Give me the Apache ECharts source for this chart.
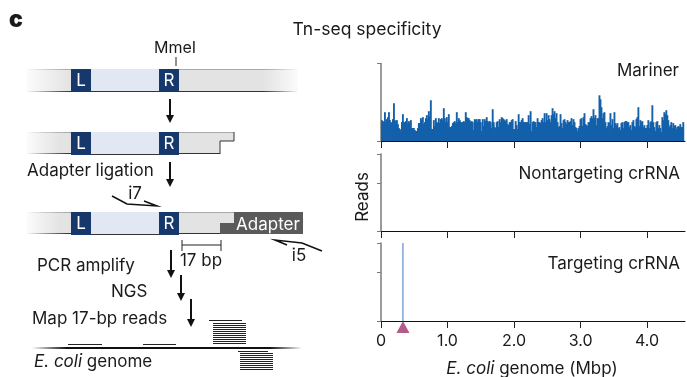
<!DOCTYPE html>
<html>
<head>
<meta charset="utf-8">
<script src="https://cdn.jsdelivr.net/npm/echarts@6/dist/echarts.min.js"></script>
<style>
html, body { margin: 0; padding: 0; background: #fff; }
#chart { width: 687px; height: 377px; }
</style>
</head>
<body>
<div id="chart"></div>
<script>
// genome axis (Mbp)
const genomeMaxMb = 4.57;
const binMb = 0.015;
const xTickValues = [0, 1, 2, 3, 4];
const xTickLabels = ['0', '1.0', '2.0', '3.0', '4.0'];
const panelNames = ['Mariner', 'Nontargeting crRNA', 'Targeting crRNA'];

// Mariner insertions, reads per bin (relative)
const marinerReads = [
  21, 20, 19, 29, 19, 22, 24, 29, 21, 18, 19, 22, 38, 21, 20, 21, 17, 13, 12, 10,
  19, 27, 19, 19, 20, 23, 18, 20, 18, 21, 13, 13, 13, 11, 10, 10, 13, 18, 18, 23,
  21, 24, 17, 19, 23, 26, 22, 30, 25, 41, 12, 12, 21, 15, 23, 19, 18, 23, 18, 22,
  23,
  21, 33, 23, 19, 24, 19, 27, 14, 14, 15, 18, 19, 20, 18, 29, 19, 23, 21, 19, 19,
  19, 20, 19, 29, 24, 23, 23, 21, 19, 20, 19, 11, 22, 21, 22, 19, 22, 22, 19, 10,
  22, 15, 22, 20, 24, 20, 19, 20, 19, 13, 32, 19, 14, 13, 19, 20, 14, 22, 19, 24,
  23,
  22, 21, 20, 22, 17, 16, 19, 19, 21, 22, 12, 12, 20, 16, 12, 27, 19, 19, 21, 23,
  19, 19, 19, 19, 19, 26, 17, 30, 10, 19, 20, 19, 19, 14, 23, 19, 19, 18, 21, 23,
  19, 28, 19, 28, 21, 26, 22, 19, 26, 33, 27, 30, 23, 28, 19, 14, 15, 27, 18, 13,
  21, 22,
  19, 17, 21, 19, 19, 20, 23, 16, 22, 19, 14, 13, 10, 13, 15, 22, 23, 15, 24, 28,
  17, 16, 15, 19, 19, 23, 25, 23, 32, 23, 26, 16, 23, 23, 46, 42, 34, 23, 28, 29,
  19, 13, 15, 19, 18, 28, 16, 22, 13, 29, 18, 16, 18, 13, 14, 11, 18, 19, 13, 19,
  20, 20,
  19, 19, 14, 16, 11, 19, 21, 15, 14, 22, 24, 34, 15, 21, 19, 20, 14, 16, 13, 13,
  16, 21, 13, 19, 20, 36, 19, 14, 10, 19, 20, 13, 16, 13, 9, 24, 21, 29, 27, 31,
  26, 21, 14, 16, 19, 13, 18, 15, 16, 12, 14, 15, 14, 17, 14, 14, 19
];
const marinerMax = 78;

// nontargeting crRNA: no insertions above background
const nontargetingReads = [];

// targeting crRNA: single insertion site
const targetSiteMb = 0.33;
const targetingReads = [[targetSiteMb, 0], [targetSiteMb, 1]];
const pairedMax = 1;
const pairedTicks = [0, 0.62, 1];

const FONT = 'Inter, "Noto Sans", sans-serif';
const INK = '#1a1a1a';
const NAVY = '#17386b';
const LIGHT_BLUE = '#e2e7f4';
const BAR_GRAY = '#e3e3e3';
const ADAPTER_GRAY = '#5a5a5a';

const chart = echarts.init(document.getElementById('chart'));

function hgrad(stops) {
  return new echarts.graphic.LinearGradient(0, 0, 1, 0,
    stops.map(s => ({ offset: s[0], color: s[1] })));
}

function txt(text, x, y, extra) {
  return {
    type: 'text', z: 10,
    style: Object.assign({
      text: text, x: x, y: y, fill: INK,
      fontSize: 17, fontFamily: FONT,
      textAlign: 'left', textVerticalAlign: 'middle',
      align: 'left', verticalAlign: 'middle'
    }, extra || {})
  };
}

function rect(x, y, w, h, fill) {
  return { type: 'rect', shape: { x: x, y: y, width: w, height: h }, style: { fill: fill } };
}

function seg(x1, y1, x2, y2, w, color) {
  return { type: 'line', shape: { x1: x1, y1: y1, x2: x2, y2: y2 },
    style: { stroke: color || '#111', lineWidth: w || 1 } };
}

function arrowDown(x, y1, y2) {
  return [
    seg(x, y1, x, y2 - 6, 2, '#111'),
    { type: 'polygon', shape: { points: [[x - 4, y2 - 8], [x + 4, y2 - 8], [x, y2]] }, style: { fill: '#111' } }
  ];
}

// L / R transposon ends with cargo between them
function transposon(y) {
  return [
    rect(71, y, 20, 23, NAVY),
    rect(91, y, 68, 23, LIGHT_BLUE),
    seg(91, y + 22.5, 159, y + 22.5, 1, '#333'),
    rect(159, y, 20, 23, NAVY),
    txt('L', 81, y + 12, { fill: '#fff', textAlign: 'center', align: 'center' }),
    txt('R', 169, y + 12, { fill: '#fff', textAlign: 'center', align: 'center' })
  ];
}

const fadeGray = [[0, '#fbfbfb'], [0.16, BAR_GRAY], [1, BAR_GRAY]];

let g = [];
g.push(txt('c', 9, 20, { fontSize: 23, fontWeight: 900 }));
g.push(txt('Tn-seq specificity', 367, 30, { textAlign: 'center', align: 'center', fontSize: 17.5 }));

// step 1: genomic insertion
g.push(txt('MmeI', 175, 48, { textAlign: 'center', align: 'center', fontSize: 16 }));
g.push(seg(176, 57, 176, 66, 1, '#222'));
g.push(rect(27, 69, 271, 23, hgrad([[0, '#fbfbfb'], [0.16, BAR_GRAY], [0.87, BAR_GRAY], [1, '#fbfbfb']])));
g.push(rect(27, 69, 271, 1, hgrad([[0, 'rgba(160,160,160,0)'], [0.16, '#a8a8a8'], [0.87, '#a8a8a8'], [1, 'rgba(160,160,160,0)']])));
g.push(rect(27, 91, 271, 1, hgrad([[0, 'rgba(40,40,40,0)'], [0.16, '#333'], [0.87, '#333'], [1, 'rgba(40,40,40,0)']])));
g = g.concat(transposon(69));
g = g.concat(arrowDown(170, 99, 123));

// step 2: MmeI cut
g.push({ type: 'polygon', shape: { points: [[27, 132], [234, 132], [234, 141], [220, 141], [220, 154], [27, 154]] },
  style: { fill: hgrad(fadeGray) } });
g.push(rect(27, 132, 207, 1, hgrad([[0, 'rgba(160,160,160,0)'], [0.2, '#a8a8a8'], [1, '#a8a8a8']])));
g.push(rect(27, 153, 193, 1, hgrad([[0, 'rgba(40,40,40,0)'], [0.22, '#333'], [1, '#333']])));
g.push({ type: 'polyline', shape: { points: [[234, 132], [234, 141], [220, 141], [220, 154]] },
  style: { stroke: '#333', lineWidth: 1, fill: null } });
g = g.concat(transposon(132));
g.push(txt('Adapter ligation', 27, 171));
g = g.concat(arrowDown(170, 162, 187));

// step 3: adapter ligated, primers
g.push({ type: 'polygon', shape: { points: [[27, 212], [234, 212], [234, 223], [220, 223], [220, 234], [27, 234]] },
  style: { fill: hgrad(fadeGray) } });
g.push(rect(27, 212, 207, 1, hgrad([[0, 'rgba(160,160,160,0)'], [0.2, '#a8a8a8'], [1, '#a8a8a8']])));
g.push(rect(27, 233, 193, 1, hgrad([[0, 'rgba(40,40,40,0)'], [0.22, '#333'], [1, '#333']])));
g.push({ type: 'polygon', shape: { points: [[234, 212], [303, 212], [303, 234], [220, 234], [220, 223], [234, 223]] },
  style: { fill: ADAPTER_GRAY } });
g = g.concat(transposon(212));
g.push(txt('Adapter', 268, 225, { fill: '#fff', textAlign: 'center', align: 'center' }));
g.push(txt('i7', 135, 194, { textAlign: 'center', align: 'center' }));
g.push({ type: 'polyline', shape: { points: [[112, 196], [127, 204], [157, 206], [144, 201]] },
  style: { stroke: '#111', lineWidth: 1.5, fill: null } });
g.push(txt('i5', 299, 256, { textAlign: 'center', align: 'center' }));
g.push({ type: 'polyline', shape: { points: [[322, 251], [302, 243], [275, 240], [287, 245]] },
  style: { stroke: '#111', lineWidth: 1.5, fill: null } });
g.push(seg(182, 245, 221, 245, 1, '#222'));
g.push(seg(182, 240, 182, 251, 1, '#222'));
g.push(seg(221, 240, 221, 251, 1, '#222'));
g.push(txt('17 bp', 201, 261, { textAlign: 'center', align: 'center' }));

// steps 4-6
g = g.concat(arrowDown(171, 250, 278));
g = g.concat(arrowDown(181, 275, 301));
g = g.concat(arrowDown(191, 299, 327));
g.push(txt('PCR amplify', 37, 266));
g.push(txt('NGS', 111, 292));
g.push(txt('Map 17-bp reads', 32, 319));

// reads mapped on genome
g.push(rect(32, 347, 270, 2, hgrad([[0, 'rgba(0,0,0,0)'], [0.13, '#111'], [0.88, '#111'], [1, 'rgba(0,0,0,0)']])));
g.push(seg(68, 344.5, 102, 344.5, 1, '#222'));
g.push(seg(143, 344.5, 176, 344.5, 1, '#222'));
g.push(seg(209, 320.5, 242, 320.5, 1, '#222'));
for (let k = 0; k < 11; k++) {
  g.push(seg(213, 323.5 + 2 * k, 246, 323.5 + 2 * k, 1, '#222'));
}
g.push(seg(238, 351.5, 268, 351.5, 1, '#222'));
for (let k = 0; k < 9; k++) {
  g.push(seg(240, 353.5 + 2 * k, 273, 353.5 + 2 * k, 1, '#222'));
}
g.push({
  type: 'text', z: 10,
  style: {
    text: '{i|E. coli} genome', x: 34, y: 362, fill: INK, fontSize: 17, fontFamily: FONT,
    textVerticalAlign: 'middle', verticalAlign: 'middle',
    rich: { i: { fontStyle: 'italic', fontSize: 17, fontFamily: FONT, fill: INK } }
  }
});

// right panel labels
g.push(txt(panelNames[0], 679, 71, { textAlign: 'right', align: 'right' }));
g.push(txt(panelNames[1], 680, 174, { textAlign: 'right', align: 'right' }));
g.push(txt(panelNames[2], 680, 264, { textAlign: 'right', align: 'right' }));
const readsLabel = txt('Reads', 0, 0, { textAlign: 'center', align: 'center' });
readsLabel.rotation = Math.PI / 2;
readsLabel.x = 363;
readsLabel.y = 197;
g.push(readsLabel);
g.push({
  type: 'text', z: 10,
  style: {
    text: '{i|E. coli} genome (Mbp)', x: 532, y: 369, fill: INK, fontSize: 17, fontFamily: FONT,
    textAlign: 'center', align: 'center', textVerticalAlign: 'middle', verticalAlign: 'middle',
    rich: { i: { fontStyle: 'italic', fontSize: 17, fontFamily: FONT, fill: INK } }
  }
});

const grids = [
  { left: 381, right: 2, top: 63.5, height: 77.5 },
  { left: 381, right: 2, top: 154, height: 77 },
  { left: 381, right: 2, top: 243, height: 78 }
];

const xAxes = grids.map((_, i) => ({
  type: 'value', gridIndex: i, min: 0, max: genomeMaxMb,
  axisLine: { lineStyle: { color: '#111', width: 1 } },
  axisTick: { show: true, length: 7, customValues: xTickValues, lineStyle: { color: '#222' } },
  splitLine: { show: false },
  axisLabel: {
    show: i === 2, customValues: xTickValues, margin: 12,
    formatter: v => xTickLabels[xTickValues.indexOf(v)],
    fontSize: 16, fontFamily: FONT, color: INK
  }
}));

const yAxes = grids.map((_, i) => ({
  type: 'value', gridIndex: i, min: 0, max: i === 0 ? marinerMax : pairedMax,
  axisLine: { show: true, lineStyle: { color: '#7a7a7a', width: 1.5 } },
  axisTick: { show: true, length: 4, customValues: i === 0 ? [0, marinerMax] : pairedTicks,
    lineStyle: { color: '#7a7a7a' } },
  axisLabel: { show: false },
  splitLine: { show: false }
}));

chart.setOption({
  animation: false,
  grid: grids,
  xAxis: xAxes,
  yAxis: yAxes,
  graphic: { elements: g },
  series: [
    {
      type: 'custom', xAxisIndex: 0, yAxisIndex: 0,
      data: marinerReads.map((v, i) => [i * binMb, v]),
      renderItem: function (params, api) {
        const top = api.coord([api.value(0), api.value(1)]);
        const bottom = api.coord([api.value(0) + binMb, 0]);
        return {
          type: 'rect',
          shape: { x: top[0], y: top[1], width: bottom[0] - top[0] + 0.9, height: bottom[1] - top[1] },
          style: { fill: '#1460aa' }
        };
      }
    },
    {
      type: 'line', xAxisIndex: 1, yAxisIndex: 1, data: nontargetingReads,
      symbol: 'none', lineStyle: { color: '#1460aa', width: 1 }
    },
    {
      type: 'line', xAxisIndex: 2, yAxisIndex: 2, data: targetingReads,
      symbol: 'none', lineStyle: { color: '#3f78bf', width: 1 }
    },
    {
      type: 'scatter', xAxisIndex: 2, yAxisIndex: 2, data: [[targetSiteMb, 0]],
      symbol: 'triangle', symbolSize: [13, 12], symbolOffset: [0, 6], clip: false, z: 5,
      itemStyle: { color: '#a3326f' }
    }
  ]
});
</script>
</body>
</html>
